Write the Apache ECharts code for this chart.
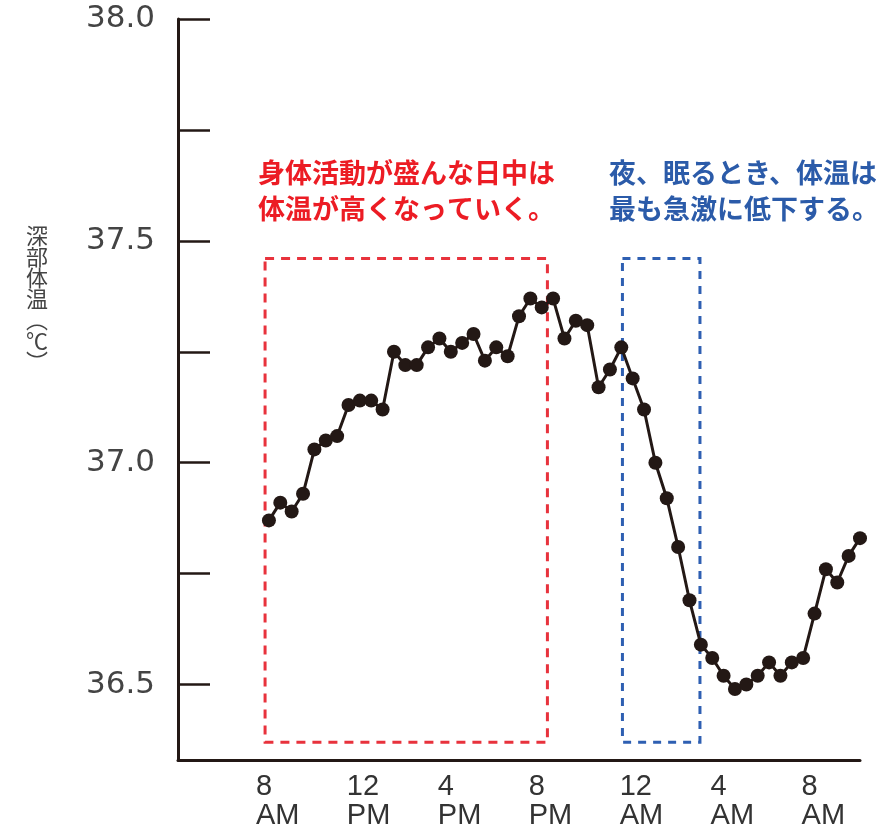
<!DOCTYPE html>
<html>
<head>
<meta charset="utf-8">
<script src="https://cdn.jsdelivr.net/npm/echarts@6/dist/echarts.min.js"></script>
<style>
  html, body { margin: 0; padding: 0; background: #fff; }
  #chart { width: 879px; height: 833px; }
</style>
</head>
<body>
<div id="chart"></div>
<script>
// 時刻（時、8 = 午前8時、24 = 午前0時）
const hours = [
  8, 8.5, 9, 9.5, 10, 10.5, 11, 11.5, 12, 12.5,
  13, 13.5, 14, 14.5, 15, 15.5, 16, 16.5, 17, 17.5,
  18, 18.5, 19, 19.5, 20, 20.5, 21, 21.5, 22, 22.5,
  23, 23.5, 24, 24.5, 25, 25.5, 26, 26.5, 27, 27.5,
  28, 28.5, 29, 29.5, 30, 30.5, 31, 31.5, 32, 32.5,
  33, 33.5, 34
];

// 深部体温（℃）
const temps = [
  36.87, 36.91, 36.89, 36.93, 37.03, 37.05, 37.06, 37.13, 37.14, 37.14,
  37.12, 37.25, 37.22, 37.22, 37.26, 37.28, 37.25, 37.27, 37.29, 37.23,
  37.26, 37.24, 37.33, 37.37, 37.35, 37.37, 37.28, 37.32, 37.31, 37.17,
  37.21, 37.26, 37.19, 37.12, 37.00, 36.92, 36.81, 36.69, 36.59, 36.56,
  36.52, 36.49, 36.50, 36.52, 36.55, 36.52, 36.55, 36.56, 36.66, 36.76,
  36.73, 36.79, 36.83
];

const xTickValues = [8, 12, 16, 20, 24, 28, 32];
const xTickLabels = ['8\nAM', '12\nPM', '4\nPM', '8\nPM', '12\nAM', '4\nAM', '8\nAM'];
const yLabelValues = [36.5, 37.0, 37.5, 38.0];
const yTickValues = [36.5, 36.75, 37.0, 37.25, 37.5, 37.75, 38.0];

// 注釈の範囲（時刻, 体温）
const dayBox = [[7.83, 37.46], [20.25, 36.37]];
const nightBox = [[23.55, 37.46], [26.96, 36.37]];

const dayText = '身体活動が盛んな日中は\n体温が高くなっていく。';
const nightText = '夜、眠るとき、体温は\n最も急激に低下する。';
const yName = '深\n部\n体\n温\n︵\n℃\n︶';

const chart = echarts.init(document.getElementById('chart'));

const lineColor = '#231815';

const option = {
  backgroundColor: '#fff',
  animation: false,
  grid: { left: 178, right: 19, top: 19, bottom: 73 },
  xAxis: {
    type: 'value',
    min: 4,
    max: 34,
    splitLine: { show: false },
    axisTick: { show: false },
    axisLine: { lineStyle: { color: lineColor, width: 3 } },
    axisLabel: {
      customValues: xTickValues,
      margin: 12,
      width: 26,
      align: 'center',
      formatter: function (v) {
        const i = xTickValues.indexOf(v);
        if (i < 0) return '';
        return xTickLabels[i].split('\n').map(s => '{t|' + s + '}').join('\n');
      },
      rich: {
        t: {
          align: 'left',
          fontFamily: '"Liberation Sans", Arial, sans-serif',
          fontSize: 29,
          lineHeight: 29,
          color: '#333'
        }
      }
    }
  },
  yAxis: {
    type: 'value',
    min: 36.33,
    max: 38,
    splitLine: { show: false },
    axisLine: { show: true, lineStyle: { color: lineColor, width: 3 } },
    axisTick: {
      show: true,
      inside: true,
      length: 32,
      customValues: yTickValues,
      lineStyle: { color: lineColor, width: 2.5 }
    },
    axisLabel: {
      customValues: yLabelValues,
      margin: 23,
      formatter: v => v.toFixed(1),
      fontFamily: '"DejaVu Sans", sans-serif',
      fontSize: 31,
      color: '#444'
    }
  },
  series: [
    {
      type: 'line',
      data: hours.map((h, i) => [h, temps[i]]),
      symbol: 'circle',
      symbolSize: 14,
      lineStyle: { color: lineColor, width: 3 },
      itemStyle: { color: lineColor },
      z: 2
    },
    {
      type: 'line',
      data: [],
      z: 5,
      markArea: {
        silent: true,
        label: { show: false },
        data: [
          [
            { coord: dayBox[0], itemStyle: { color: 'rgba(0,0,0,0)', borderColor: '#e8323c', borderWidth: 3, borderType: [9, 7] } },
            { coord: dayBox[1] }
          ],
          [
            { coord: nightBox[0], itemStyle: { color: 'rgba(0,0,0,0)', borderColor: '#2e5fb2', borderWidth: 3, borderType: [8, 7] } },
            { coord: nightBox[1] }
          ]
        ]
      }
    }
  ],
  graphic: [
    {
      type: 'text',
      left: 258,
      top: 155,
      style: {
        text: dayText,
        fill: '#ec1c24',
        fontFamily: '"Noto Sans CJK JP", sans-serif',
        fontWeight: 'bold',
        fontSize: 27,
        lineHeight: 36
      }
    },
    {
      type: 'text',
      left: 609,
      top: 155,
      style: {
        text: nightText,
        fill: '#2b5ba9',
        fontFamily: '"Noto Sans CJK JP", sans-serif',
        fontWeight: 'bold',
        fontSize: 27,
        lineHeight: 36
      }
    },
    {
      type: 'text',
      left: 26,
      top: 225,
      style: {
        text: yName,
        fill: '#444',
        fontFamily: '"Noto Sans CJK JP", sans-serif',
        fontSize: 22,
        lineHeight: 21,
        align: 'center'
      }
    }
  ]
};

chart.setOption(option);
</script>
</body>
</html>
